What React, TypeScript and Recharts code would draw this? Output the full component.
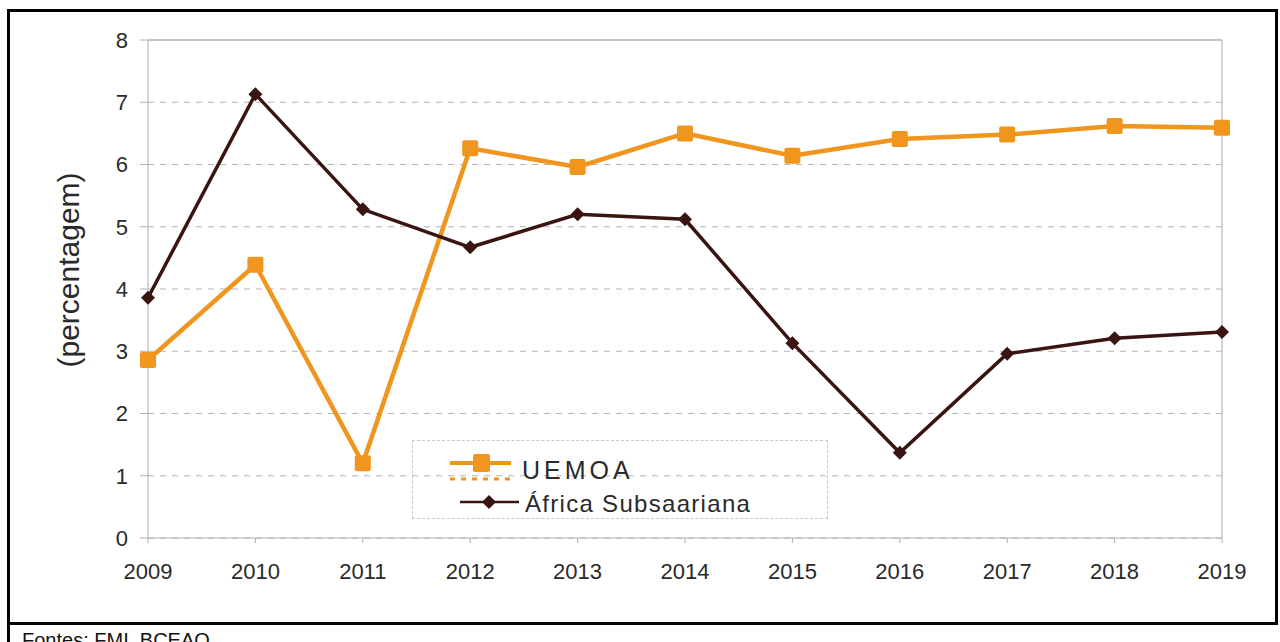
import { CartesianGrid, Line, LineChart, ReferenceLine, XAxis, YAxis } from "recharts";

const anos = ["2009", "2010", "2011", "2012", "2013", "2014", "2015", "2016", "2017", "2018", "2019"];
const uemoa = [2.86, 4.39, 1.2, 6.26, 5.96, 6.5, 6.14, 6.41, 6.48, 6.62, 6.59];
const africa = [3.86, 7.13, 5.28, 4.67, 5.2, 5.12, 3.13, 1.37, 2.96, 3.21, 3.31];
const yTicks = [0, 1, 2, 3, 4, 5, 6, 7, 8];

const data = anos.map((ano, i) => ({ ano, uemoa: uemoa[i], africa: africa[i] }));

const ORANGE = "#f0951d";
const BROWN = "#3a1410";
const TEXT = "#2a2a2a";
const FONT = "'Liberation Sans', Arial, sans-serif";

const SquareDot = (props: any) => {
  const { cx, cy, index } = props;
  return <rect key={index} x={cx - 8} y={cy - 8} width={16} height={16} rx={2} fill={ORANGE} />;
};

const DiamondDot = (props: any) => {
  const { cx, cy, index } = props;
  return <polygon key={index} points={`${cx},${cy - 7} ${cx + 7},${cy} ${cx},${cy + 7} ${cx - 7},${cy}`} fill={BROWN} />;
};

// rotated axis title, a bit above the plot's middle like in the source
const YTitle = () => (
  <text
    transform="translate(68,270) rotate(-90)"
    textAnchor="middle"
    dominantBaseline="central"
    fill={TEXT}
    fontSize={30}
    fontFamily={FONT}
  >
    (percentagem)
  </text>
);

function LegendBox() {
  return (
    <div
      style={{
        position: "absolute",
        left: 412,
        top: 440,
        width: 416,
        height: 79,
        border: "1px dashed #c8c8c8",
        boxSizing: "border-box",
        fontFamily: FONT,
        color: TEXT,
      }}
    >
      <svg width={110} height={77} style={{ position: "absolute", left: 0, top: 0 }}>
        <line x1={37} y1={22} x2={98} y2={22} stroke={ORANGE} strokeWidth={4} />
        <rect x={60} y={13} width={17} height={18} rx={2} fill={ORANGE} />
        <line x1={37} y1={38} x2={98} y2={38} stroke={ORANGE} strokeWidth={3} strokeDasharray="5 6" />
        <line x1={47} y1={61} x2={106} y2={61} stroke={BROWN} strokeWidth={2.5} />
        <polygon points="76,54 83,61 76,68 69,61" fill={BROWN} />
      </svg>
      <div style={{ position: "absolute", left: 109, top: 15, fontSize: 25, letterSpacing: 4 }}>UEMOA</div>
      <div style={{ position: "absolute", left: 112, top: 49, fontSize: 24, letterSpacing: 1.3 }}>
        África Subsaariana
      </div>
    </div>
  );
}

export default function App() {
  return (
    <div style={{ position: "relative", width: 1280, height: 642, background: "#fff", overflow: "hidden" }}>
      <style>{`body{margin:0}`}</style>
      <div
        style={{
          position: "absolute",
          left: 7,
          top: 9,
          width: 1271,
          height: 616,
          border: "3px solid #000",
          boxSizing: "border-box",
        }}
      />
      <div style={{ position: "absolute", left: 7, top: 622, width: 3, height: 20, background: "#000" }} />
      <div style={{ position: "absolute", left: 22, top: 629, fontFamily: FONT, fontSize: 20, color: "#111" }}>
        Fontes: FMI, BCEAO
      </div>
      <div style={{ position: "absolute", left: 0, top: 0 }}>
        <LineChart width={1280} height={642} data={data} margin={{ top: 40, right: 58, bottom: 74, left: 88 }}>
          <CartesianGrid horizontal vertical={false} stroke="#b5b5b5" strokeDasharray="6 6" />
          <ReferenceLine y={8} stroke="#c4c4c4" strokeWidth={2} />
          <ReferenceLine x="2019" stroke="#c4c4c4" strokeWidth={1.5} />
          <XAxis
            dataKey="ano"
            stroke="#b0b0b0"
            tickSize={5}
            tickMargin={20}
            height={30}
            tick={{ fill: TEXT, fontSize: 22, fontFamily: FONT }}
          />
          <YAxis
            domain={[0, 8]}
            ticks={yTicks}
            width={60}
            stroke="#b0b0b0"
            tickSize={8}
            tickMargin={12}
            tick={{ fill: TEXT, fontSize: 22, fontFamily: FONT }}
            label={{ value: "(percentagem)", content: YTitle }}
          />
          <Line
            dataKey="uemoa"
            stroke={ORANGE}
            strokeWidth={4.5}
            dot={SquareDot}
            activeDot={false}
            isAnimationActive={false}
          />
          <Line
            dataKey="africa"
            stroke={BROWN}
            strokeWidth={3.5}
            dot={DiamondDot}
            activeDot={false}
            isAnimationActive={false}
          />
        </LineChart>
      </div>
      <LegendBox />
    </div>
  );
}
